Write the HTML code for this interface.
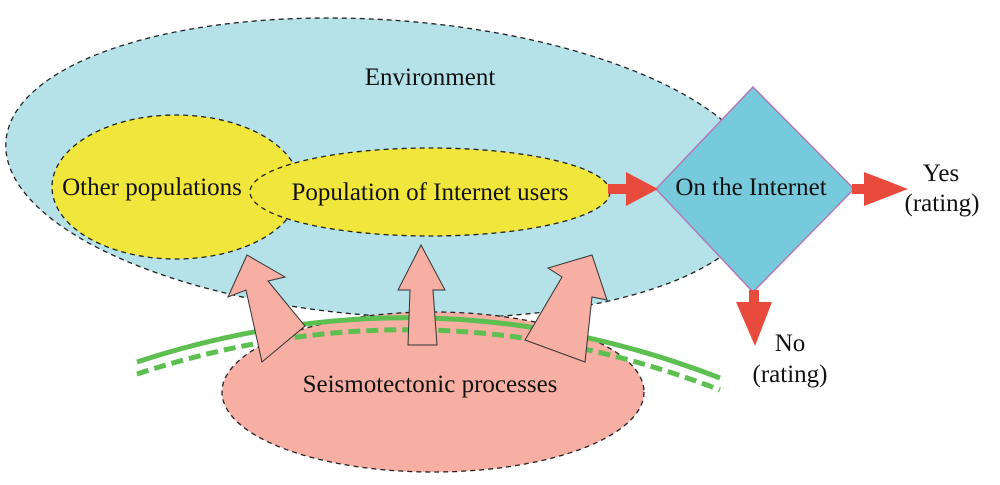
<!DOCTYPE html>
<html><head><meta charset="utf-8"><style>body{margin:0;background:#fff}svg{display:block}svg text{font-family:"Liberation Serif","DejaVu Serif",serif;font-size:25px;fill:#111}</style></head><body>
<svg width="1000" height="485" viewBox="0 0 1000 485" font-family="Liberation Serif, serif">
<ellipse cx="385" cy="168" rx="380" ry="148" transform="rotate(4 385 168)" fill="#b5e2e8" stroke="#222" stroke-width="1.3" stroke-dasharray="5,4"/>
<ellipse cx="176" cy="187" rx="124" ry="72" fill="#f0e63c" stroke="#222" stroke-width="1.3" stroke-dasharray="5,4"/>
<ellipse cx="430" cy="192" rx="180" ry="44" fill="#f0e63c" stroke="#222" stroke-width="1.3" stroke-dasharray="5,4"/>
<text x="430" y="85" text-anchor="middle">Environment</text>
<text x="152" y="195" text-anchor="middle">Other populations</text>
<text x="430" y="200" text-anchor="middle">Population of Internet users</text>
<polygon points="753,87 854,189 753,292 656,189" fill="#76cadb" stroke="#b07ab8" stroke-width="1.5"/>
<text x="751" y="195" text-anchor="middle">On the Internet</text>
<rect x="608" y="184" width="22" height="10" fill="#e84a3c"/>
<polygon points="626,172 658,189 626,206" fill="#e84a3c"/>
<rect x="852" y="184" width="20" height="10" fill="#e84a3c"/>
<polygon points="864,172 908,189 864,206" fill="#e84a3c"/>
<rect x="749" y="290" width="10" height="18" fill="#e84a3c"/>
<polygon points="736,302 772,302 755,346" fill="#e84a3c"/>
<text x="941" y="181" text-anchor="middle">Yes</text>
<text x="942" y="211" text-anchor="middle">(rating)</text>
<text x="790" y="351" text-anchor="middle">No</text>
<text x="790" y="382" text-anchor="middle">(rating)</text>
<ellipse cx="433" cy="392" rx="211" ry="80" fill="#f7aea3" stroke="#222" stroke-width="1.3" stroke-dasharray="5,4"/>
<path d="M137,362 Q430,266 720,378" fill="none" stroke="#5cbf50" stroke-width="5"/>
<path d="M137,374 Q430,278 720,390" fill="none" stroke="#5cbf50" stroke-width="5" stroke-dasharray="12,6"/>
<text x="430" y="392" text-anchor="middle">Seismotectonic processes</text>
<polygon points="247,255 228,297 246,290 262,362 305,326 268,281 285,277" fill="#f7aea3" stroke="#333" stroke-width="1"/>
<polygon points="421,245 398,290 410,290 408,345 437,345 433,290 445,290" fill="#f7aea3" stroke="#333" stroke-width="1"/>
<polygon points="592,255 548,268 562,277 525,340 585,362 592,297 607,300" fill="#f7aea3" stroke="#333" stroke-width="1"/>
</svg></body></html>
